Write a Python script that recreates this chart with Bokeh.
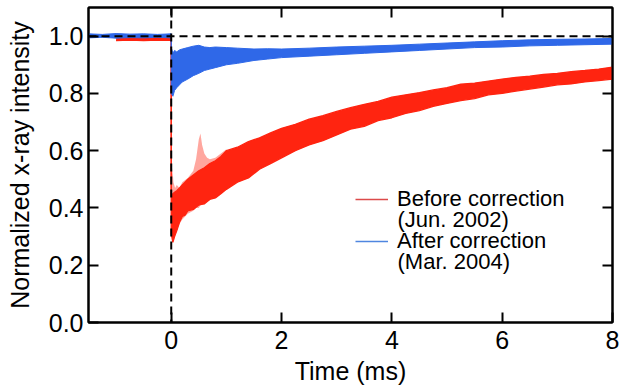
from bokeh.plotting import figure
from bokeh.models import (ColumnDataSource, Span, Legend, LegendItem, LinearAxis,
                          FixedTicker, Range1d, CDSView, IndexFilter, Label)
from bokeh.embed import file_html
from bokeh.resources import INLINE

# ---------------- data ----------------
x_ticks = [0, 2, 4, 6, 8]
y_ticks = [0.0, 0.2, 0.4, 0.6, 0.8, 1.0]

# Before correction (Jun. 2002): envelope of the noisy trace
red_t = [-1.0, -0.75, -0.5, -0.25, 0.0, 0.0, 0.03, 0.06, 0.10, 0.15, 0.20, 0.25, 0.30,
         0.40, 0.50, 0.60, 0.70, 0.80, 0.90, 1.00, 1.20, 1.40, 1.60, 1.80, 2.00,
         2.25, 2.50, 2.75, 3.00, 3.25, 3.50, 3.75, 4.00, 4.25, 4.50, 4.75, 5.00,
         5.25, 5.50, 5.75, 6.00, 6.25, 6.50, 6.75, 7.00, 7.25, 7.50, 7.75, 8.00]
red_lo = [0.984, 0.986, 0.984, 0.986, 0.985, 0.31, 0.28, 0.30, 0.32, 0.35, 0.37, 0.375, 0.39,
          0.395, 0.41, 0.415, 0.43, 0.435, 0.45, 0.465, 0.49, 0.505, 0.535, 0.555, 0.575,
          0.60, 0.62, 0.635, 0.655, 0.675, 0.685, 0.705, 0.715, 0.73, 0.74, 0.755, 0.765,
          0.775, 0.782, 0.795, 0.80, 0.808, 0.815, 0.822, 0.83, 0.833, 0.84, 0.845, 0.85]
red_hi = [0.996, 0.997, 0.995, 0.997, 0.996, 0.44, 0.45, 0.455, 0.46, 0.47, 0.48, 0.49, 0.50,
          0.515, 0.53, 0.54, 0.555, 0.565, 0.58, 0.60, 0.612, 0.632, 0.645, 0.662, 0.678,
          0.692, 0.71, 0.722, 0.737, 0.75, 0.762, 0.772, 0.787, 0.795, 0.803, 0.812, 0.82,
          0.832, 0.836, 0.843, 0.85, 0.856, 0.86, 0.866, 0.87, 0.876, 0.88, 0.885, 0.892]

# thin spikes of the red trace just after the event
spike_t = [0.0, 0.02, 0.04, 0.07, 0.10, 0.15, 0.20, 0.30, 0.40, 0.45, 0.50, 0.53,
           0.56, 0.60, 0.65, 0.70, 0.80, 0.90, 1.00]
spike_lo = [0.31, 0.29, 0.285, 0.30, 0.32, 0.345, 0.36, 0.38, 0.39, 0.40, 0.40, 0.41,
            0.41, 0.41, 0.42, 0.43, 0.435, 0.45, 0.465]
spike_hi = [0.45, 0.54, 0.49, 0.47, 0.48, 0.47, 0.49, 0.505, 0.53, 0.57, 0.64, 0.66,
            0.62, 0.59, 0.575, 0.57, 0.575, 0.59, 0.605]

# After correction (Mar. 2004)
blue_t = [-1.5, -1.25, -1.0, -0.75, -0.5, -0.25, 0.0, 0.0, 0.03, 0.06, 0.10, 0.15, 0.20,
          0.30, 0.40, 0.50, 0.60, 0.70, 0.80, 1.00, 1.20, 1.50, 1.75, 2.00, 2.50, 3.00,
          3.50, 4.00, 4.50, 5.00, 5.50, 6.00, 6.50, 7.00, 7.50, 8.00]
blue_lo = [0.994, 0.996, 0.993, 0.995, 0.994, 0.996, 0.994, 0.80, 0.79, 0.81, 0.82, 0.83, 0.84,
           0.85, 0.862, 0.87, 0.88, 0.885, 0.89, 0.90, 0.905, 0.915, 0.92, 0.925, 0.93, 0.935,
           0.94, 0.945, 0.95, 0.955, 0.96, 0.962, 0.966, 0.968, 0.97, 0.972]
blue_hi = [1.008, 1.006, 1.009, 1.007, 1.008, 1.006, 1.008, 0.96, 0.94, 0.95, 0.945, 0.952, 0.955,
           0.96, 0.965, 0.968, 0.962, 0.96, 0.962, 0.96, 0.958, 0.955, 0.956, 0.955, 0.958, 0.962,
           0.965, 0.968, 0.972, 0.976, 0.98, 0.984, 0.987, 0.989, 0.99, 0.992]

series_names = ["Before correction", "After correction"]
series_dates = ["(Jun. 2002)", "(Mar. 2004)"]

RED = "#ff2410"
BLUE = "#2f68e8"
FONT = "Liberation Sans"

red_src = ColumnDataSource(dict(t=red_t, lo=red_lo, hi=red_hi))
spike_src = ColumnDataSource(dict(t=spike_t, lo=spike_lo, hi=spike_hi))
blue_src = ColumnDataSource(dict(t=blue_t, lo=blue_lo, hi=blue_hi))

p = figure(width=619, height=390, x_range=Range1d(-1.5, 8), y_range=Range1d(0, 1.1),
           output_backend="svg", toolbar_location=None,
           min_border_left=88, min_border_right=7, min_border_top=7, min_border_bottom=68)
p.grid.visible = False
p.background_fill_color = "white"
p.border_fill_color = "white"
p.outline_line_color = "black"
p.outline_line_width = 2

# data
p.varea(x="t", y1="lo", y2="hi", source=spike_src, fill_color=RED, fill_alpha=0.4)
p.varea(x="t", y1="lo", y2="hi", source=red_src, fill_color=RED)
p.line(x="t", y="hi", source=red_src, line_color=RED, line_width=1.3)
p.line(x="t", y="lo", source=red_src, line_color=RED, line_width=1.3)
p.varea(x="t", y1="lo", y2="hi", source=blue_src, fill_color=BLUE)
p.line(x="t", y="hi", source=blue_src, line_color=BLUE, line_width=1.0)
p.line(x="t", y="lo", source=blue_src, line_color=BLUE, line_width=1.0)

# legend-only renderers: a one-point view draws no visible segment in the plot
one = CDSView(filter=IndexFilter(indices=[0]))
leg_red = p.line(x="t", y="hi", source=red_src, view=one, line_color="#dc4a4a", line_width=1.3)
leg_blue = p.line(x="t", y="hi", source=blue_src, view=one, line_color="#4f86e0", line_width=1.3)

# reference dashed lines
p.add_layout(Span(location=1.0, dimension="width", line_color="black",
                  line_width=2, line_dash="8 5"))
p.add_layout(Span(location=0.0, dimension="height", line_color="black",
                  line_width=2, line_dash="8 5"))

def style_axis(ax, show_labels=True):
    ax.axis_line_width = 2
    ax.axis_line_color = "black"
    ax.major_tick_in = 10
    ax.major_tick_out = 0
    ax.major_tick_line_width = 2
    ax.minor_tick_line_color = None
    ax.major_label_text_font = FONT
    if show_labels:
        ax.major_label_text_font_size = "25px"
        ax.major_label_text_color = "black"
    else:
        ax.major_label_text_font_size = "1px"
        ax.major_label_text_color = None
        ax.major_label_standoff = 0
    ax.axis_label_text_font = FONT
    ax.axis_label_text_font_size = "25px"
    ax.axis_label_text_font_style = "normal"
    ax.axis_label_text_color = "black"

p.xaxis.ticker = FixedTicker(ticks=x_ticks)
p.yaxis.ticker = FixedTicker(ticks=y_ticks)
p.yaxis.major_label_overrides = {v: f"{v:.1f}" for v in y_ticks}
p.xaxis.axis_label = "Time (ms)"
p.yaxis.axis_label = "Normalized x-ray intensity"
style_axis(p.xaxis[0])
style_axis(p.yaxis[0])
p.xaxis.major_label_standoff = 8
p.yaxis.major_label_standoff = 5
p.xaxis.axis_label_standoff = 5
p.yaxis.axis_label_standoff = 12

top = LinearAxis(ticker=FixedTicker(ticks=x_ticks[:-1]))
style_axis(top, show_labels=False)
p.add_layout(top, "above")
right = LinearAxis(ticker=FixedTicker(ticks=y_ticks[1:]))
style_axis(right, show_labels=False)
p.add_layout(right, "right")

# legend: first lines in a Legend, second (date) lines as labels below them
legend = Legend(items=[LegendItem(label=series_names[0], renderers=[leg_red]),
                       LegendItem(label=series_names[1], renderers=[leg_blue])],
                location=(267, 68), padding=0, margin=0, spacing=16,
                border_line_color=None, background_fill_alpha=0,
                glyph_width=33, glyph_height=22, label_height=22, label_standoff=9,
                label_text_font=FONT, label_text_font_size="22px",
                label_text_color="black")
p.add_layout(legend)
for txt, off in zip(series_dates, [103, 61]):
    p.add_layout(Label(x=309, y=off, x_units="screen", y_units="screen", text=txt,
                       text_font=FONT, text_font_size="22px", text_color="black",
                       text_baseline="middle", text_align="left"))

open("out.html", "w").write(file_html(p, INLINE))
